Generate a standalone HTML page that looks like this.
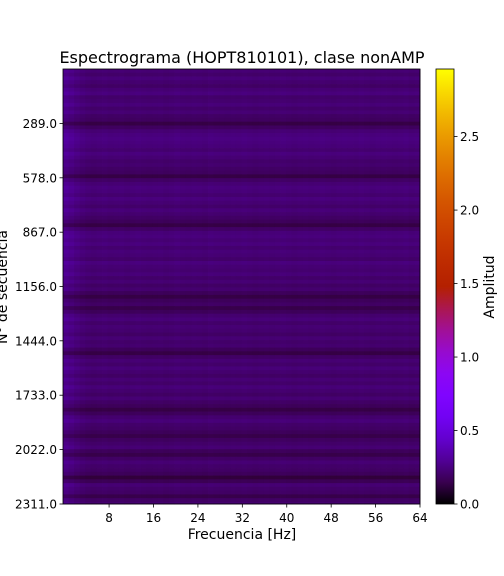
<!DOCTYPE html>
<html><head><meta charset="utf-8"><style>
body{margin:0;background:#fff;}
svg{display:block;font-family:"DejaVu Sans","Liberation Sans",sans-serif;}
</style></head><body>
<svg id="chart" width="504" height="576">
<defs>
<linearGradient id="cbgrad" x1="0" y1="1" x2="0" y2="0"></linearGradient>
</defs>
<text x="242" y="63" font-size="16" text-anchor="middle">Espectrograma (HOPT810101), clase nonAMP</text>
<g id="heat"></g>
<rect x="63" y="69" width="357" height="435" fill="none" stroke="#000" stroke-width="0.8"/>
<g id="xaxis"></g>
<g id="yaxis"></g>
<text x="242" y="539" font-size="14" text-anchor="middle">Frecuencia [Hz]</text>
<text transform="translate(7,287) rotate(-90)" font-size="14" text-anchor="middle">N° de secuencia</text>
<rect x="436" y="69" width="18" height="435" fill="url(#cbgrad)"/>
<rect x="436" y="69" width="18" height="435" fill="none" stroke="#000" stroke-width="0.8"/>
<g id="cbaxis"></g>
<text transform="translate(494,287) rotate(-90)" font-size="14" text-anchor="middle">Amplitud</text>
</svg>
<script>
const rowBlockSize = 20;
const totalRows = 2311;
const rowAmps = [
.22,.2,.23,.21,.19,.22,.24,.2,.21,.23,
.2,.22,.19,.18,.13,.18,.22,.24,.25,.24,
.23,.21,.24,.22,.2,.21,.19,.18,.13,.19,
.22,.24,.23,.21,.24,.22,.2,.23,.21,.19,
.17,.13,.19,.23,.24,.22,.24,.21,.23,.22,
.2,.24,.22,.21,.23,.2,.22,.19,.21,.17,
.13,.17,.19,.14,.17,.21,.23,.2,.22,.21,
.19,.22,.2,.21,.17,.13,.19,.22,.2,.23,
.21,.19,.22,.2,.23,.21,.19,.22,.19,.17,
.13,.17,.21,.23,.2,.19,.17,.14,.18,.2,
.22,.17,.14,.19,.22,.2,.19,.17,.11,.16,
.22,.2,.19,.14,.19,.21];
const colFactors = [1.3,1.22,1.12,1.05,1,0.98,1,1.02,0.99,1,1.01,0.98,1,1.02,1,0.99,
1,1.01,0.98,1,1.03,1,0.99,1.01,1,0.98,1.02,1,1,0.99,1.01,1,
1.02,1,0.98,1,1.01,0.99,1,1.02,1,0.98,1,1.01,0.99,1,1.02,1,
0.98,1,1.01,1,0.99,1.02,1,0.98,1,1.01,1,0.99,1,1.02,0.98,1];
const xTicks = [8,16,24,32,40,48,56,64];
const yTicks = [289,578,867,1156,1444,1733,2022,2311];
const cbTicks = [0,0.5,1.0,1.5,2.0,2.5];
const vmax = 2.96;

const X0=63,X1=420,Y0=69,Y1=504;
const xs = v => X0 + (v+0.3)/(64.3)*(X1-X0);
const ys = r => Y0 + r/totalRows*(Y1-Y0);
const cs = v => Y1 - v/vmax*(Y1-Y0);
function cmap(v){
  let t=Math.max(0,Math.min(1,v/vmax));
  let r=Math.sqrt(t), g=t*t*t, b=Math.max(0,Math.sin(2*Math.PI*t));
  return `rgb(${Math.round(r*255)},${Math.round(g*255)},${Math.round(b*255)})`;
}
const NS='http://www.w3.org/2000/svg';
const heat=document.getElementById('heat');
const cw=(X1-X0)/colFactors.length;
rowAmps.forEach((a,i)=>{
  const r0=i*rowBlockSize, r1=Math.min(totalRows,(i+1)*rowBlockSize);
  colFactors.forEach((f,j)=>{
    const el=document.createElementNS(NS,'rect');
    el.setAttribute('x',(X0+j*cw).toFixed(2));
    el.setAttribute('y',ys(r0).toFixed(2));
    el.setAttribute('width',(cw+0.4).toFixed(2));
    el.setAttribute('height',(ys(r1)-ys(r0)+0.4).toFixed(2));
    el.setAttribute('fill',cmap(a*f));
    
    
    heat.appendChild(el);
  });
});
function tick(g,x1,y1,x2,y2,tx,ty,txt,anchor,name){
  const l=document.createElementNS(NS,'line');
  l.setAttribute('x1',x1);l.setAttribute('y1',y1);l.setAttribute('x2',x2);l.setAttribute('y2',y2);
  l.setAttribute('stroke','#000');l.setAttribute('stroke-width','0.8');
  
  
  g.appendChild(l);
  const t=document.createElementNS(NS,'text');
  t.setAttribute('x',tx);t.setAttribute('y',ty);t.setAttribute('font-size','12');t.setAttribute('text-anchor',anchor);
  t.textContent=txt;
  
  
  g.appendChild(t);
}
const xg=document.getElementById('xaxis');
xTicks.forEach(v=>{const x=xs(v);tick(xg,x,Y1,x,Y1+3.5,x,Y1+18,String(v),'middle','x-axis');});
const yg=document.getElementById('yaxis');
yTicks.forEach(v=>{const y=ys(v);tick(yg,X0,y,X0-3.5,y,X0-6,y+4.5,v.toFixed(1),'end','y-axis');});
const cg=document.getElementById('cbaxis');
cbTicks.forEach(v=>{const y=cs(v);tick(cg,454,y,457.5,y,460,y+4.5,v.toFixed(1),'start','colorbar');});
const grad=document.getElementById('cbgrad');
for(let k=0;k<=20;k++){
  const s=document.createElementNS(NS,'stop');
  s.setAttribute('offset',(k/20));
  s.setAttribute('stop-color',cmap(k/20*vmax));
  grad.appendChild(s);
}
</script>
</body></html>
